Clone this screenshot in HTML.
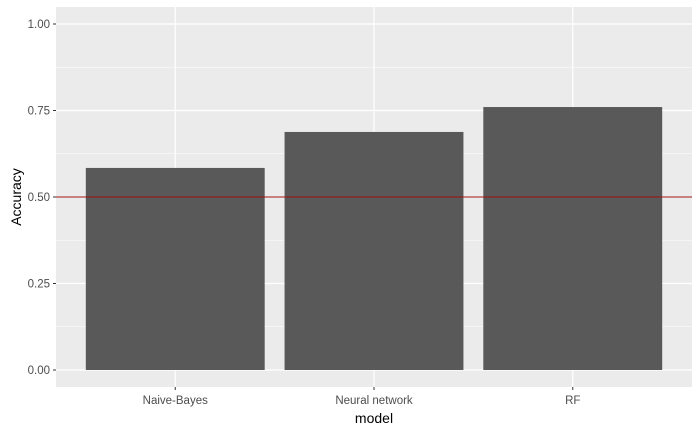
<!DOCTYPE html>
<html><head><meta charset="utf-8"><style>
body{margin:0;background:#fff;}
text{font-family:"Liberation Sans",Arial,sans-serif;}
</style></head><body>
<svg id="chart" width="700" height="432" xmlns="http://www.w3.org/2000/svg">
<rect x="56" y="7" width="636" height="380" fill="#ebebeb"/>
<g id="grid"></g><g id="bars"></g><g id="axes"></g>
<text x="374" y="423" font-size="14" text-anchor="middle" fill="#000">model</text>
<text transform="translate(21,197) rotate(-90)" font-size="14" text-anchor="middle" fill="#000">Accuracy</text>
</svg>
<script>
const categories = ["Naive-Bayes","Neural network","RF"];
const accuracy = [0.584, 0.688, 0.760];
const yTicks = [0, 0.25, 0.5, 0.75, 1.0];
const yTickLabels = ["0.00","0.25","0.50","0.75","1.00"];
const refLine = [0.5];

const NS="http://www.w3.org/2000/svg";
const pl=56, pr=692, pt=7, pb=387;
const y0=370, y1=24;
const yS=v=>y0-(y0-y1)*v;
const step=(pr-pl)/(categories.length+0.2);
const xS=i=>pl+step*(0.6+i);
function mk(tag,attrs,parent){const e=document.createElementNS(NS,tag);for(const k in attrs)e.setAttribute(k,attrs[k]);parent.appendChild(e);return e;}
const grid=document.getElementById('grid'),bars=document.getElementById('bars'),axes=document.getElementById('axes');
for(let i=0;i<yTicks.length-1;i++){
  const l=mk('line',{x1:pl,x2:pr,y1:yS((yTicks[i]+yTicks[i+1])/2),y2:yS((yTicks[i]+yTicks[i+1])/2),stroke:'#fff','stroke-width':0.6},grid);
  
  
}
yTicks.forEach((t,i)=>{
  const l=mk('line',{x1:pl,x2:pr,y1:yS(t),y2:yS(t),stroke:'#fff','stroke-width':1.2},grid);
  
  
  const tk=mk('line',{x1:pl-3,x2:pl,y1:yS(t),y2:yS(t),stroke:'#333','stroke-width':1},axes);
  
  
  const tx=mk('text',{x:pl-6,y:yS(t)+4,'font-size':11.5,'text-anchor':'end',fill:'#4d4d4d'},axes);
  tx.textContent=yTickLabels[i];
  
  
});
categories.forEach((c,i)=>{
  const cx=xS(i);
  const g=mk('line',{x1:cx,x2:cx,y1:pt,y2:pb,stroke:'#fff','stroke-width':1.2},grid);
  
  
  const w=step*0.9;
  const b=mk('rect',{x:cx-w/2,y:yS(accuracy[i]),width:w,height:yS(0)-yS(accuracy[i]),fill:'#595959'},bars);
  
  
  const tk=mk('line',{x1:cx,x2:cx,y1:pb,y2:pb+3,stroke:'#333','stroke-width':1},axes);
  
  
  const tx=mk('text',{x:cx,y:pb+17,'font-size':11.5,'text-anchor':'middle',fill:'#4d4d4d'},axes);
  tx.textContent=c;
  
  
});
refLine.forEach(v=>{
  const l=mk('line',{x1:pl,x2:pr,y1:yS(v),y2:yS(v),stroke:'#a01010','stroke-width':1},bars);
  
  
});
</script>
</body></html>
